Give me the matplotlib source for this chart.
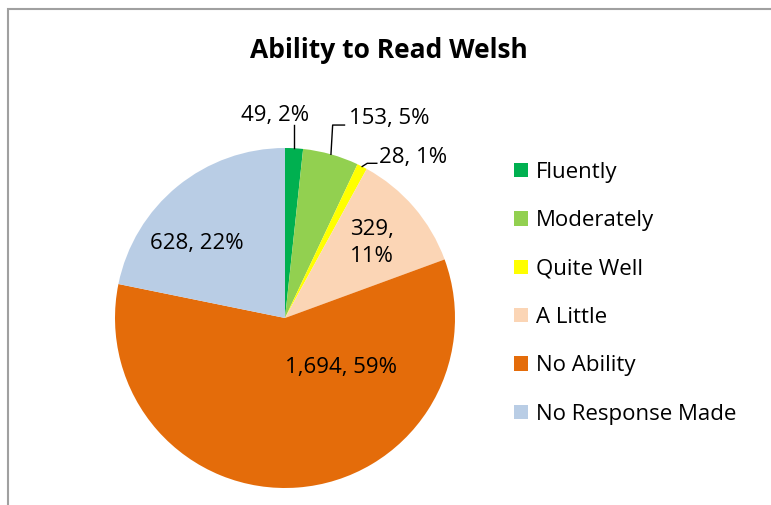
import matplotlib
matplotlib.use("Agg")
import matplotlib.pyplot as plt
from matplotlib.patches import Rectangle
import numpy as np

plt.rcParams['font.family'] = ['Open Sans', 'DejaVu Sans']

categories = ["Fluently", "Moderately", "Quite Well", "A Little", "No Ability", "No Response Made"]
counts = [49, 153, 28, 329, 1694, 628]
label_texts = ["49, 2%", "153, 5%", "28, 1%", "329,\n11%", "1,694, 59%", "628, 22%"]
colours = ["#00B050", "#92D050", "#FFFF00", "#FBD5B5", "#E46C0A", "#B9CDE5"]

W, H = 771, 505
fig = plt.figure(figsize=(W / 100, H / 100), dpi=100)

# chart border (grey frame running off right/bottom)
fig.patches.append(Rectangle((8 / W, -0.1), 1.2, (H - 9) / H + 0.1, transform=fig.transFigure,
                             fill=False, edgecolor="#a0a0a0", linewidth=1.5))

fig.text(389 / W, 1 - 51 / H, "Ability to Read Welsh", ha="center", va="center",
         fontsize=19, fontweight="bold")

# pie axes
cx, cy, r = 285, 318, 170
ax = fig.add_axes([(cx - r) / W, (H - cy - r) / H, 2 * r / W, 2 * r / H])
wedges, _ = ax.pie(counts, colors=colours, startangle=90, counterclock=False,
                   radius=1, wedgeprops=dict(linewidth=0))
ax.set_xlim(-1, 1)
ax.set_ylim(-1, 1)
ax.set_aspect("equal")
ax.axis("off")

def mid(w, rr=1.0):
    a = np.deg2rad((w.theta1 + w.theta2) / 2)
    return rr * np.cos(a), rr * np.sin(a)

fs = 16
# inside labels
ax.text(0.51, 0.44, label_texts[3], ha="center", va="center", fontsize=fs, linespacing=1.4)
ax.text(0.33, -0.29, label_texts[4], ha="center", va="center", fontsize=fs)
ax.text(-0.52, 0.44, label_texts[5], ha="center", va="center", fontsize=fs)

# outside labels with leader lines
x0, y0 = mid(wedges[0])
ax.plot([x0, x0], [y0, 1.135], color="black", lw=1, clip_on=False)
ax.text(-0.06, 1.19, label_texts[0], ha="center", va="center", fontsize=fs)

x1, y1 = mid(wedges[1])
ax.plot([x1, x1 + 0.01, 0.35], [y1, 1.135, 1.135], color="black", lw=1, clip_on=False)
ax.text(0.375, 1.176, label_texts[1], ha="left", va="center", fontsize=fs)

x2, y2 = mid(wedges[2])
ax.plot([x2, x2 + 0.03, 0.54], [y2, 0.91, 0.91], color="black", lw=1, clip_on=False)
ax.text(0.555, 0.947, label_texts[2], ha="left", va="center", fontsize=fs)

handles = [Rectangle((0, 0), 1, 1, facecolor=c, edgecolor="none") for c in colours]
fig.legend(handles, categories, loc="upper left", bbox_to_anchor=(514 / W, 1 - 162 / H),
           frameon=False, fontsize=fs, handlelength=0.63, handleheight=0.63,
           handletextpad=0.36, labelspacing=1.23, borderaxespad=0, borderpad=0)

fig.savefig("out.png", dpi=100)
